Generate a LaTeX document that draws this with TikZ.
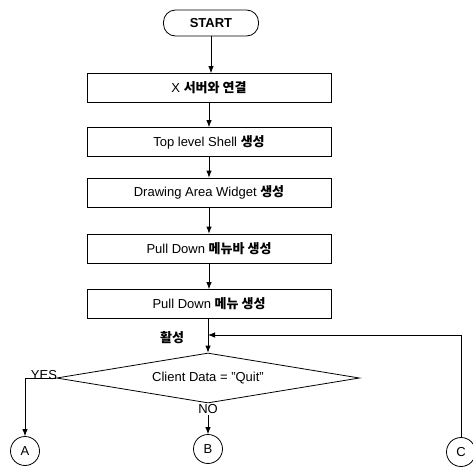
\documentclass[tikz,border=0pt]{standalone}
\usepackage{fontspec}
\setmainfont{Liberation Sans}
\newfontfamily\kr{Noto Sans CJK KR}
\usetikzlibrary{shapes.geometric,arrows.meta}
\begin{document}
\begin{tikzpicture}[x=1pt,y=-1pt,
  every node/.style={font=\fontsize{13}{15}\selectfont},
  procbox/.style={draw,line width=0.8pt,minimum width=244pt,minimum height=29pt,inner sep=0pt},
  termbox/.style={draw,line width=0.8pt,rounded corners=12pt,minimum width=95pt,minimum height=26pt,inner sep=0pt},
  decbox/.style={draw,line width=0.8pt,shape=diamond,aspect=6,minimum width=303pt,minimum height=50pt,inner sep=0pt},
  conn/.style={draw,circle,line width=0.8pt,minimum size=29pt,inner sep=0pt},
  flow/.style={line width=0.8pt,-{Latex[length=7pt,width=5.5pt]}},
  lbl/.style={inner sep=1pt},
  ko/.style={}]
\useasboundingbox (0,0) rectangle (473,469);
\node[termbox] (start) at (211,23) {\bfseries START};
\node[procbox] (b1) at (209,88) {X {\kr\bfseries 서버와 연결}};
\node[procbox] (b2) at (209,142) {Top level Shell {\kr\bfseries 생성}};
\node[procbox] (b3) at (209,192.5) {Drawing Area Widget {\kr\bfseries 생성}};
\node[procbox] (b4) at (209,248.5) {Pull Down {\kr\bfseries 메뉴바 생성}};
\node[procbox] (b5) at (209,304) {Pull Down {\kr\bfseries 메뉴 생성}};
\node[decbox] (d) at (208,378) {Client Data = "Quit"};
\node[conn] (A) at (25,451) {A};
\node[conn] (B) at (208,449) {B};
\node[conn] (C) at (461,452) {C};
\node[lbl,anchor=north] (no) at (d.south) {NO};
\node[lbl] (yes) at (44,375) {YES};
\node[lbl] (act) at (172,338) {\kr\bfseries 활성};
\coordinate (j) at (208,335);
\coordinate (cl) at (25,378);
\coordinate (cr) at (461,335);
\draw[flow] (start.south) -- (start.south |- b1.north);
\draw[flow] (b1) -- (b2);
\draw[flow] (b2) -- (b3);
\draw[flow] (b3) -- (b4);
\draw[flow] (b4) -- (b5);
\draw[flow] (b5.south -| d.north) -- (d.north);
\draw[flow] (d.west) -- (cl) -- (A.north);
\draw[flow] (no.south) -- (B.north);
\draw[flow] (C.north) -- (cr) -- (j);
\end{tikzpicture}
\end{document}
